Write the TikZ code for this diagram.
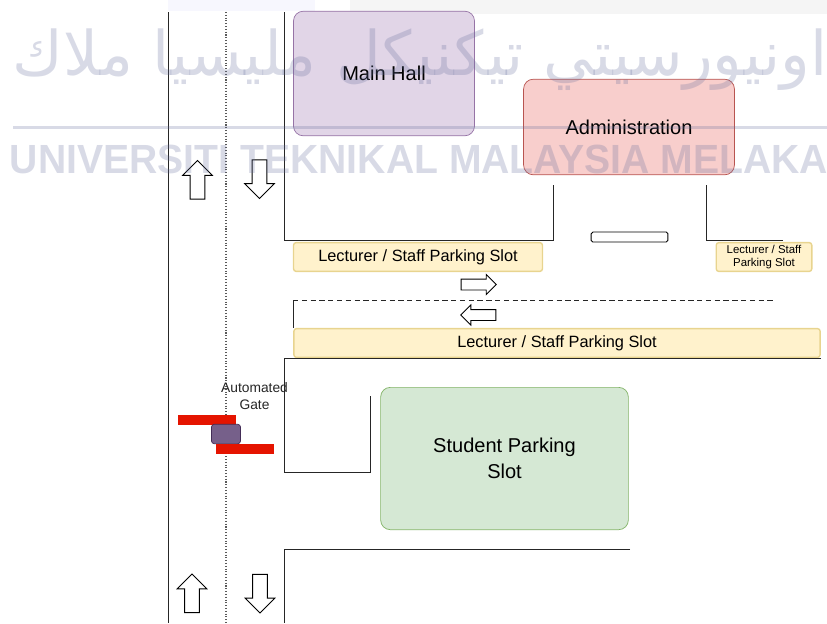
\documentclass[tikz,border=0pt]{standalone}
\usepackage{fontspec}
\setmainfont{Liberation Sans}
\newfontfamily\arabicfont[Script=Arabic]{DejaVu Sans}
\TeXXeTstate=1
\usetikzlibrary{shapes.arrows}
\definecolor{hallfill}{HTML}{E1D5E7}
\definecolor{hallline}{HTML}{9673A6}
\definecolor{adminfill}{HTML}{F8CECC}
\definecolor{adminline}{HTML}{B85450}
\definecolor{slotfill}{HTML}{FFF2CC}
\definecolor{slotline}{HTML}{E8D48F}
\definecolor{studentfill}{HTML}{D5E8D4}
\definecolor{studentline}{HTML}{82B366}
\definecolor{gatefill}{HTML}{E51400}
\definecolor{postfill}{HTML}{76608A}
\definecolor{postline}{HTML}{432D57}
\definecolor{markcolor}{RGB}{99,108,155}
\tikzset{
    roomshape/.style={draw, rounded corners=5.5pt, inner sep=0pt, align=center, font=\fontsize{11.4}{14.5}\selectfont},
    slotshape/.style={draw=slotline, fill=slotfill, rounded corners=1.5pt, inner sep=0pt, line width=0.8pt, align=center, font=\fontsize{9.3}{11}\selectfont},
    gateshape/.style={fill=gatefill, inner sep=0pt, minimum width=33pt, minimum height=5.7pt},
    roadarrow/.style={draw, fill=white, shape=single arrow, inner sep=3.95pt, minimum height=22pt, minimum width=16.4pt, single arrow head extend=4.25pt, line width=0.5pt},
    sidearrow/.style={roadarrow, inner sep=2.85pt, minimum height=20pt, minimum width=11pt, single arrow head extend=2.65pt},
    roadline/.style={line width=0.55pt, black!85},
}
\begin{document}
\begin{tikzpicture}[x=0.02cm, y=-0.02cm]
        \useasboundingbox (0,0) rectangle (827,623);

        % Page edge
        \fill[black!4] (350,0) rectangle (827,14);
        \fill[black!15!blue!3!white] (168,0) rectangle (315,11);

        % Buildings
        \node[roomshape, draw=hallline, fill=hallfill, minimum width=103pt, minimum height=70.9pt] (mainhall) at (384,73.5) {Main Hall};
        \node[roomshape, draw=adminline, fill=adminfill, minimum width=120pt, minimum height=54.4pt] (admin) at (629,127) {Administration};
        \node[roomshape, draw=studentline, fill=studentfill, minimum width=141pt, minimum height=81pt] (student) at (504.5,458.5) {Student Parking\\Slot};

        % Parking slots
        \node[slotshape, minimum width=141.7pt, minimum height=16.4pt] (slotupper) at (418,257) {Lecturer / Staff Parking Slot};
        \node[slotshape, minimum width=54.4pt, minimum height=16.4pt, font=\fontsize{6.5}{7.6}\selectfont] (slotsmall) at (764,257) {Lecturer / Staff\\Parking Slot};
        \node[slotshape, minimum width=299.5pt, minimum height=16.4pt] (slotlong) at (557,343) {Lecturer / Staff Parking Slot};
        \node[draw, fill=white, rounded corners=1pt, inner sep=0pt, minimum width=43.7pt, minimum height=5.7pt, line width=0.5pt] (barrier) at (629.5,237) {};

        % Road edges
        \draw[roadline] (168.5,12) -- (168.5,623);
        \draw[roadline] (284,12) -- (284,240) -- (553,240) -- (553,185);
        \draw[roadline] (706,185) -- (706,240) -- (783,240);
        \draw[roadline] (293,328) -- (293,300);
        \draw[roadline, densely dashed] (293,300) -- (775,300);
        \draw[roadline] (821,358.5) -- (284,358.5) -- (284,472) -- (370,472) -- (370,396);
        \draw[roadline] (630,549) -- (284,549) -- (284,623);
        \draw[black!65, densely dotted, line width=0.6pt] (226,12) -- (226,623);

        % Direction arrows
        \node[roadarrow, rotate=90] (inupper) at (197.5,183.5) {};
        \node[roadarrow, rotate=-90] (outupper) at (259.5,175.5) {};
        \node[roadarrow, rotate=90] (inlower) at (192,597) {};
        \node[roadarrow, rotate=-90] (outlower) at (260,590) {};
        \node[sidearrow] (lanein) at (476,284.5) {};
        \node[sidearrow, rotate=180] (laneout) at (481,315) {};

        % Automated gate
        \node[gateshape] (gateupper) at (207,420) {};
        \node[draw=postline, fill=postfill, rounded corners=1.5pt, inner sep=0pt, minimum width=16.5pt, minimum height=11pt] (gatepost) at (226,434) {};
        \node[gateshape] (gatelower) at (245,449) {};
        \node[align=center, inner sep=0pt, font=\fontsize{7.85}{9.8}\selectfont, black!85] (gatelabel) at (254.5,396) {Automated\\Gate};

        % Watermark
        \begin{scope}[opacity=0.25]
            \fill[markcolor] (13,125.5) rectangle (827,128.5);
            \node[inner sep=0pt, text=markcolor, font=\arabicfont\fontsize{35}{35}\selectfont] (markjawi) at (420,60) {\beginR اونيورسيتي تيكنيكل مليسيا ملاك\endR};
            \node[inner sep=0pt, xscale=0.96, text=markcolor, font=\fontsize{23.2}{26}\selectfont\bfseries] (markname) at (419,159) {UNIVERSITI TEKNIKAL MALAYSIA MELAKA};
        \end{scope}
    \end{tikzpicture}
\end{document}
